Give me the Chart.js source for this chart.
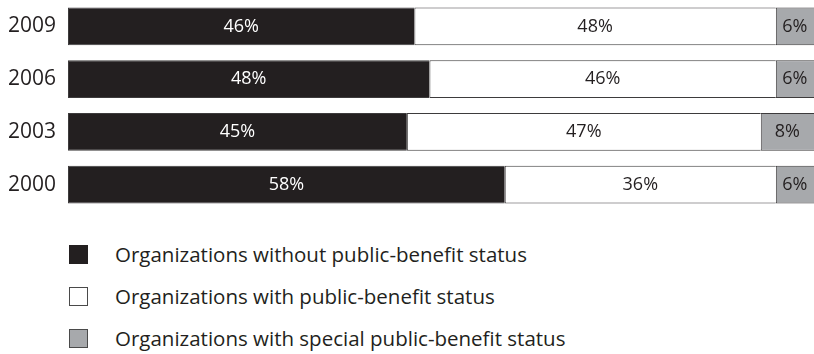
<!DOCTYPE html>
<html>
<head>
<meta charset="utf-8">
<script src="https://cdn.jsdelivr.net/npm/chart.js@4"></script>
<style>
  html, body { margin: 0; padding: 0; background: #fff; }
  body { width: 814px; height: 354px; position: relative; overflow: hidden; font-family: "Open Sans", sans-serif; }
  #wrap { position: absolute; left: 0; top: 0; width: 814px; height: 211px; }
  #legend { position: absolute; left: 69px; top: 233px; margin: 0; padding: 0; list-style: none; }
  #legend li { height: 42px; display: flex; align-items: center; font-size: 20.5px; color: #231f20; }
  #legend span { display: inline-block; width: 19px; height: 19px; box-sizing: border-box; margin-right: 27px; }
</style>
</head>
<body>
<div id="wrap"><canvas id="chart"></canvas></div>
<ul id="legend"></ul>
<script>
const years = ["2009", "2006", "2003", "2000"];
const seriesNames = [
  "Organizations without public-benefit status",
  "Organizations with public-benefit status",
  "Organizations with special public-benefit status"
];
const withoutStatus = [46, 48, 45, 58];
const withStatus = [48, 46, 47, 36];
const specialStatus = [6, 6, 8, 6];

const fills = ["#231f20", "#ffffff", "#a7a9ac"];
const textColors = ["#ffffff", "#231f20", "#231f20"];

// values in the middle of every segment
const segmentLabels = {
  id: "segmentLabels",
  afterDatasetsDraw(chart) {
    const ctx = chart.ctx;
    ctx.save();
    ctx.font = "18px 'Open Sans', sans-serif";
    ctx.textAlign = "center";
    ctx.textBaseline = "middle";
    chart.data.datasets.forEach((ds, i) => {
      chart.getDatasetMeta(i).data.forEach((bar, j) => {
        const left = Math.min(bar.base, bar.x);
        const right = Math.min(Math.max(bar.base, bar.x), chart.chartArea.right);
        ctx.fillStyle = textColors[i];
        ctx.fillText(ds.data[j] + "%", (left + right) / 2, bar.y);
      });
    });
    ctx.restore();
  }
};

new Chart(document.getElementById("chart"), {
  type: "bar",
  data: {
    labels: years,
    datasets: [withoutStatus, withStatus, specialStatus].map((vals, i) => ({
      label: seriesNames[i],
      data: vals,
      backgroundColor: fills[i],
      borderColor: "#3d3b3c",
      borderWidth: { top: 1, bottom: 1, left: 1, right: 0 },
      borderSkipped: false,
      barPercentage: 0.72,
      categoryPercentage: 1
    }))
  },
  options: {
    indexAxis: "y",
    responsive: true,
    maintainAspectRatio: false,
    animation: false,
    layout: { padding: 0 },
    plugins: { legend: { display: false }, tooltip: { enabled: false } },
    scales: {
      x: { stacked: true, min: 0, max: 99.07, display: false },
      y: {
        stacked: true,
        grid: { display: false, drawTicks: false },
        border: { display: false },
        ticks: { color: "#231f20", font: { family: "'Open Sans', sans-serif", size: 21 }, padding: 12 },
        afterFit: s => { s.width = 68; s.paddingTop = 0; s.paddingBottom = 0; }
      }
    }
  },
  plugins: [segmentLabels]
});

const legend = document.getElementById("legend");
seriesNames.forEach((name, i) => {
  const li = document.createElement("li");
  const box = document.createElement("span");
  box.style.background = fills[i];
  box.style.border = "1px solid " + (i === 0 ? "#231f20" : "#4a4a4a");
  li.appendChild(box);
  li.appendChild(document.createTextNode(name));
  legend.appendChild(li);
});
</script>
</body>
</html>
